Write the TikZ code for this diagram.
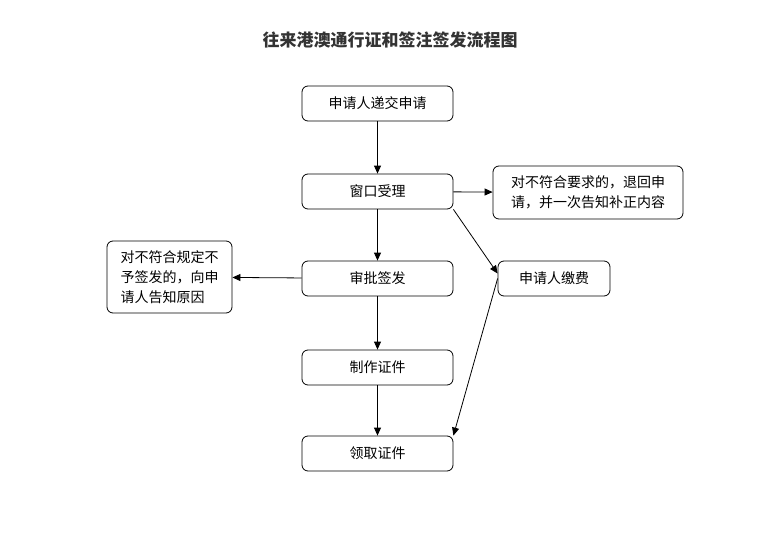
\documentclass[tikz,border=0pt]{standalone}
\usepackage{fontspec}
\setmainfont{Noto Sans CJK SC}
\usetikzlibrary{arrows.meta}

\begin{document}
\begin{tikzpicture}[x=1pt, y=-1pt, font=\fontsize{14}{20}\selectfont, line width=0.8pt,
  caja/.style={draw, rounded corners=6pt, minimum width=151pt, minimum height=35pt, inner sep=0pt},
  flecha/.style={-{Triangle[length=8pt,width=7pt]}}]
\useasboundingbox (0,0) rectangle (763,538);

% --- titulo ---
\node[font=\fontsize{17}{20}\selectfont\bfseries, text=black!80] (titulo) at (390,40) {往来港澳通行证和签注签发流程图};

% --- columna principal ---
\node[caja] (solicitud) at (377.5,103.5) {申请人递交申请};
\node[caja] (ventanilla) at (377.5,191.5) {窗口受理};
\node[caja] (aprobar) at (377.5,278.5) {审批签发};
\node[caja] (fabricar) at (377.5,367.5) {制作证件};
\node[caja] (entrega) at (377.5,453.5) {领取证件};

% --- cajas laterales ---
\node[caja, minimum width=190pt, minimum height=53pt, align=left] (devolver) at (588,192.5)
  {对不符合要求的，退回申\\请，并一次告知补正内容};
\node[caja, minimum width=125pt, minimum height=72pt, align=left] (negar) at (169.5,277)
  {对不符合规定不\\予签发的，向申\\请人告知原因};
\node[caja, minimum width=112pt] (pago) at (554,278.5) {申请人缴费};

% --- flechas ---
\draw[flecha] (solicitud) -- (ventanilla);
\draw[flecha] (ventanilla) -- (devolver);
\draw[flecha] (ventanilla) -- (aprobar);
\draw[flecha] (ventanilla.south east) -- ([yshift=5pt]pago.west);
\draw[flecha] (pago.west) -- (entrega.north east);
\draw[flecha] (aprobar) -- (negar);
\draw[flecha] (aprobar) -- (fabricar);
\draw[flecha] (fabricar) -- (entrega);

\end{tikzpicture}
\end{document}
